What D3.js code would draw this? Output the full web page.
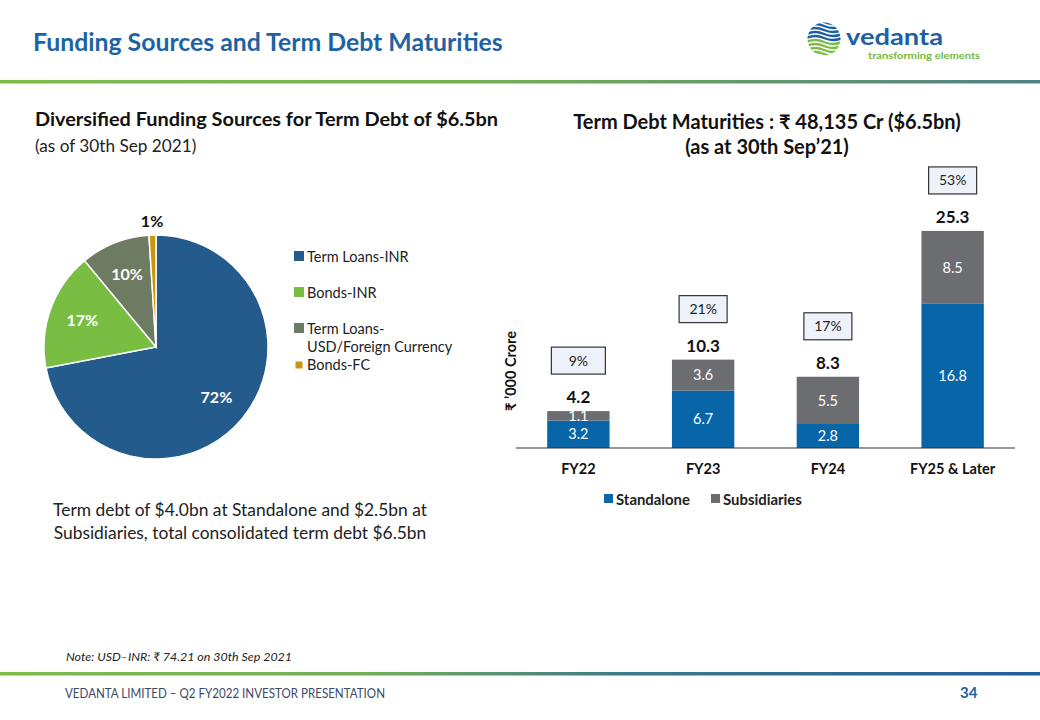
<!DOCTYPE html>
<html>
<head>
<meta charset="utf-8">
<script src="https://cdn.jsdelivr.net/npm/d3@7"></script>
<style>
  html, body { margin: 0; padding: 0; background: #ffffff; }
  svg { display: block; font-family: Lato, "Open Sans", "DejaVu Sans", sans-serif; }
</style>
</head>
<body>
<svg id="chart" width="1040" height="720"></svg>
<script>
// ---------- data ----------
const pieLabels = ["Term Loans-INR", "Bonds-INR", "Term Loans-USD/Foreign Currency", "Bonds-FC"];
const pieValues = [72, 17, 10, 1];
const pieColors = ["#245B8D", "#79BD43", "#6E7B63", "#C9950F"];

const categories = ["FY22", "FY23", "FY24", "FY25 & Later"];
const standalone = [3.2, 6.7, 2.8, 16.8];
const subsidiaries = [1.1, 3.6, 5.5, 8.5];
const totals = [4.2, 10.3, 8.3, 25.3];
const shares = ["9%", "21%", "17%", "53%"];
const seriesNames = ["Standalone", "Subsidiaries"];
const seriesColors = ["#0765A8", "#6C6D70"];

// ---------- setup ----------
const svg = d3.select("#chart");
svg.append("rect").attr("width", 1040).attr("height", 720).attr("fill", "#fff");

const defs = svg.append("defs");
const g1 = defs.append("linearGradient").attr("id", "topLine").attr("x1", "0%").attr("x2", "100%");
g1.append("stop").attr("offset", "0%").attr("stop-color", "#7DBB4E");
g1.append("stop").attr("offset", "45%").attr("stop-color", "#77B052");
g1.append("stop").attr("offset", "100%").attr("stop-color", "#4F8186");
const g2 = defs.append("linearGradient").attr("id", "botLine").attr("x1", "0%").attr("x2", "100%");
g2.append("stop").attr("offset", "0%").attr("stop-color", "#7DBB4E");
g2.append("stop").attr("offset", "35%").attr("stop-color", "#73AE58");
g2.append("stop").attr("offset", "60%").attr("stop-color", "#3E7A88");
g2.append("stop").attr("offset", "100%").attr("stop-color", "#1F5E9F");

// ---------- header ----------
svg.append("text").attr("x", 33).attr("y", 51)
  .attr("font-size", 24.8).attr("font-weight", 700).attr("fill", "#1D63A3")
  .text("Funding Sources and Term Debt Maturities");
svg.append("rect").attr("x", 0).attr("y", 80).attr("width", 1040).attr("height", 3.5).attr("fill", "url(#topLine)");

// logo
const logo = svg.append("g").attr("transform", "translate(824,39)");
defs.append("clipPath").attr("id", "globe").append("circle").attr("r", 16.5);
const lg = logo.append("g").attr("clip-path", "url(#globe)");
for (let i = 0; i < 9; i++) {
  const yy = -17 + i * 4;
  lg.append("path")
    .attr("d", `M-18,${yy} q9,-4 18,0 t18,0`)
    .attr("fill", "none")
    .attr("stroke", i < 5 ? "#1E5FA4" : "#7CBE43")
    .attr("stroke-width", 2.4);
}
svg.append("text").attr("x", 846).attr("y", 45).attr("font-size", 23).attr("font-weight", 700)
  .attr("fill", "#1E5FA4").attr("textLength", 97).attr("lengthAdjust", "spacingAndGlyphs").text("vedanta");
svg.append("text").attr("x", 868).attr("y", 59).attr("font-size", 9.5).attr("font-weight", 700)
  .attr("fill", "#74B843").attr("textLength", 112).attr("lengthAdjust", "spacingAndGlyphs").text("transforming elements");

// ---------- left panel ----------
svg.append("text").attr("x", 35).attr("y", 126).attr("font-size", 19.9).attr("font-weight", 700)
  .attr("fill", "#111").text("Diversified Funding Sources for Term Debt of $6.5bn");
svg.append("text").attr("x", 35).attr("y", 152).attr("font-size", 17.2)
  .attr("fill", "#222").text("(as of 30th Sep 2021)");

const pieCx = 156, pieCy = 347, pieR = 112;
const pie = d3.pie().sort(null).value(d => d)(pieValues);
const arc = d3.arc().innerRadius(0).outerRadius(pieR);
const pg = svg.append("g").attr("transform", `translate(${pieCx},${pieCy})`);
pg.selectAll("path").data(pie).join("path")
  .attr("d", arc)
  .attr("fill", (d, i) => pieColors[i])
  .attr("stroke", "#fff").attr("stroke-width", 1.5);

const labelArc = d3.arc().innerRadius(pieR * 0.7).outerRadius(pieR * 0.7);
const outerArc = d3.arc().innerRadius(pieR * 1.12).outerRadius(pieR * 1.12);
pg.selectAll("text.pl").data(pie).join("text")
  .attr("class", "pl")
  .attr("transform", (d, i) => {
    const c = i === 3 ? outerArc.centroid(d) : labelArc.centroid(d);
    return `translate(${c[0]},${c[1]})`;
  })
  .attr("text-anchor", "middle").attr("dy", "0.35em")
  .attr("font-size", 16).attr("font-weight", 700)
  .attr("fill", (d, i) => i === 3 ? "#111" : "#fff")
  .text(d => d.data + "%");

// pie legend
const legRows = [
  { lines: ["Term Loans-INR"], y: 262, box: 10 },
  { lines: ["Bonds-INR"], y: 298, box: 10 },
  { lines: ["Term Loans-", "USD/Foreign Currency"], y: 334, box: 10 },
  { lines: ["Bonds-FC"], y: 370, box: 7 }
];
legRows.forEach((r, i) => {
  svg.append("rect").attr("x", 294 + (10 - r.box) / 2).attr("y", r.y - 11 + (10 - r.box) / 2 + (i === 3 ? 1 : 0))
    .attr("width", r.box).attr("height", r.box).attr("fill", pieColors[i]);
  r.lines.forEach((t, j) => {
    svg.append("text").attr("x", 307).attr("y", r.y + j * 18).attr("font-size", 14.5)
      .attr("fill", "#222").text(t);
  });
});

svg.append("text").attr("x", 240).attr("y", 516).attr("text-anchor", "middle").attr("font-size", 17.4)
  .attr("fill", "#222").text("Term debt of $4.0bn at Standalone and $2.5bn at");
svg.append("text").attr("x", 240).attr("y", 539).attr("text-anchor", "middle").attr("font-size", 17.4)
  .attr("fill", "#222").text("Subsidiaries, total consolidated term debt $6.5bn");

// ---------- right panel: bar chart ----------
svg.append("text").attr("x", 767).attr("y", 129).attr("text-anchor", "middle").attr("font-size", 20)
  .attr("font-weight", 700).attr("fill", "#111").text("Term Debt Maturities : ₹ 48,135 Cr ($6.5bn)");
svg.append("text").attr("x", 767).attr("y", 154).attr("text-anchor", "middle").attr("font-size", 20)
  .attr("font-weight", 700).attr("fill", "#111").text("(as at 30th Sep’21)");

const x = d3.scaleBand().domain(categories).range([516, 1015]).paddingInner(0.5).paddingOuter(0.25);
const y = d3.scaleLinear().domain([0, 30]).range([448, 190.6]);

const stackData = categories.map((c, i) => ({ cat: c, Standalone: standalone[i], Subsidiaries: subsidiaries[i] }));
const stacked = d3.stack().keys(seriesNames)(stackData);

const bars = svg.append("g");
stacked.forEach((layer, si) => {
  bars.selectAll(null).data(layer).join("rect")
    .attr("x", d => x(d.data.cat))
    .attr("width", x.bandwidth())
    .attr("y", d => y(d[1]))
    .attr("height", d => y(d[0]) - y(d[1]))
    .attr("fill", seriesColors[si]);
  bars.selectAll(null).data(layer).join("text")
    .attr("x", d => x(d.data.cat) + x.bandwidth() / 2)
    .attr("y", d => (y(d[0]) + y(d[1])) / 2)
    .attr("dy", "0.36em")
    .attr("text-anchor", "middle").attr("font-size", 14.5).attr("fill", "#fff")
    .text(d => (d[1] - d[0]).toFixed(1));
});

// baseline axis
const xAxis = d3.axisBottom(x).tickSize(0).tickPadding(16);
const ax = svg.append("g").attr("transform", "translate(0,448)").call(xAxis);
ax.select(".domain").attr("stroke", "#333").attr("stroke-width", 1.2).attr("d", "M516,0H1015");
ax.selectAll("text").attr("font-size", 14.5).attr("font-weight", 700).attr("fill", "#111")
  .attr("font-family", "Lato, 'Open Sans', sans-serif");

// totals and share boxes
categories.forEach((c, i) => {
  const top = y(standalone[i] + subsidiaries[i]);
  const cx = x(c) + x.bandwidth() / 2;
  const ly = top - 8;
  svg.append("text").attr("x", cx).attr("y", ly).attr("text-anchor", "middle")
    .attr("font-size", 17).attr("font-weight", 700).attr("fill", "#111").text(totals[i].toFixed(1));
  const bw = shares[i].length > 2 ? 48 : 54;
  const bh = 27;
  const by = top - 37 - bh;
  svg.append("rect").attr("x", cx - bw / 2).attr("y", by).attr("width", bw).attr("height", bh)
    .attr("fill", "#EEF2FA").attr("stroke", "#333").attr("stroke-width", 1.2);
  svg.append("text").attr("x", cx).attr("y", by + bh / 2).attr("dy", "0.36em").attr("text-anchor", "middle")
    .attr("font-size", 14).attr("fill", "#222").text(shares[i]);
});

// y axis label
svg.append("text").attr("transform", "translate(516,371) rotate(-90)").attr("text-anchor", "middle")
  .attr("font-size", 14.5).attr("font-weight", 700).attr("fill", "#111").text("₹ ’000 Crore");

// bar legend
const bl = svg.append("g");
seriesNames.forEach((s, i) => {
  const lx = i === 0 ? 604 : 711;
  bl.append("rect").attr("x", lx).attr("y", 494).attr("width", 9).attr("height", 9).attr("fill", seriesColors[i]);
  bl.append("text").attr("x", lx + 12).attr("y", 505).attr("font-size", 14.9).attr("font-weight", 700)
    .attr("fill", "#222").text(s);
});

// ---------- footer ----------
svg.append("text").attr("x", 66).attr("y", 661).attr("font-size", 12).attr("font-style", "italic")
  .attr("fill", "#222").attr("textLength", 226).attr("lengthAdjust", "spacingAndGlyphs")
  .text("Note: USD–INR: ₹ 74.21 on 30th Sep 2021");
svg.append("rect").attr("x", 0).attr("y", 672).attr("width", 1040).attr("height", 3.5).attr("fill", "url(#botLine)");
svg.append("text").attr("x", 65).attr("y", 698).attr("font-size", 12.5)
  .attr("fill", "#3A4A6A").attr("textLength", 320).attr("lengthAdjust", "spacingAndGlyphs")
  .text("VEDANTA  LIMITED – Q2 FY2022  INVESTOR PRESENTATION");
svg.append("text").attr("x", 960).attr("y", 698).attr("font-size", 15).attr("font-weight", 700)
  .attr("fill", "#1F5E9F").text("34");
</script>
</body>
</html>
